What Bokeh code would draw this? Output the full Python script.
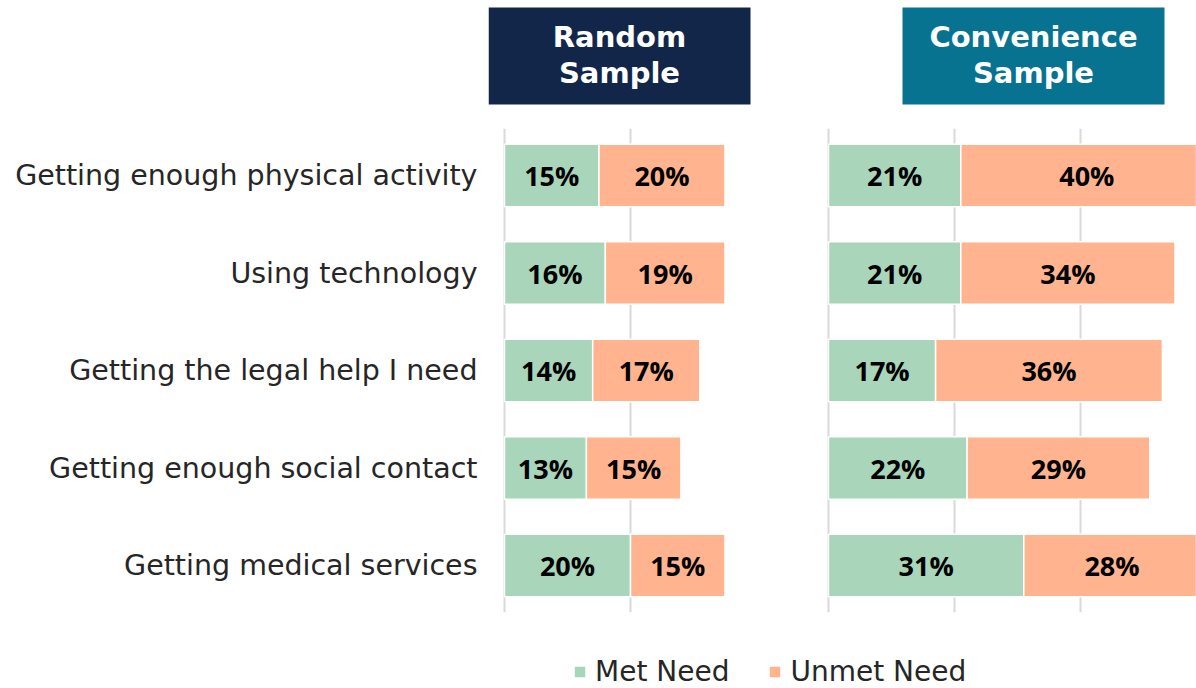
from bokeh.plotting import figure
from bokeh.models import Range1d, FixedTicker, Legend, LegendItem
from bokeh.core.properties import value
from bokeh.embed import file_html
from bokeh.resources import INLINE

# ---- data ----
categories = [
    "Getting enough physical activity",
    "Using technology",
    "Getting the legal help I need",
    "Getting enough social contact",
    "Getting medical services",
]
random_met = [15, 16, 14, 13, 20]
random_unmet = [20, 19, 17, 15, 15]
conv_met = [21, 21, 17, 22, 31]
conv_unmet = [40, 34, 36, 29, 28]
random_grid_ticks = [0, 20]
conv_grid_ticks = [0, 20, 40]
panel_titles = ["Random\nSample", "Convenience\nSample"]
legend_labels = ["Met Need", "Unmet Need"]

# ---- style ----
GREEN = "#a9d5bb"
ORANGE = "#ffb48f"
NAVY = "#12264a"
TEAL = "#077391"
GRID = "#d9d9d9"
FONT = "Open Sans"
WIDE = "DejaVu Sans"
PX_PER_PCT = 6.3
ROW_PX = 97.5

n = len(categories)
ypos = list(range(n))[::-1]  # top row highest

p = figure(
    width=1196, height=688,
    x_range=Range1d(-16 / PX_PER_PCT, 692 / PX_PER_PCT),
    y_range=Range1d(-1.2615, 5.795),
    x_axis_location=None,
    output_backend="svg", toolbar_location=None,
    min_border_left=488, min_border_right=0, min_border_top=0, min_border_bottom=0,
)
p.extra_x_ranges = {"conv": Range1d(-340 / PX_PER_PCT, 368 / PX_PER_PCT)}
p.outline_line_color = None
p.grid.visible = False
p.background_fill_color = "white"
p.border_fill_color = "white"

ax = p.yaxis[0]
ax.ticker = FixedTicker(ticks=ypos)
ax.major_label_overrides = {y: c for y, c in zip(ypos, categories)}
ax.axis_line_color = None
ax.major_tick_line_color = None
ax.minor_tick_line_color = None
ax.major_label_standoff = 5
ax.major_label_text_font = WIDE
ax.major_label_text_font_size = "28.5px"
ax.major_label_text_color = "#262626"

# gridlines
for ticks, rn in ((random_grid_ticks, "default"), (conv_grid_ticks, "conv")):
    p.segment(x0=ticks, x1=ticks, y0=[-0.48] * len(ticks), y1=[4.48] * len(ticks),
              line_color=GRID, line_width=2, x_range_name=rn)

BAR_H = 0.64
renderers = []
for met, unmet, rn in ((random_met, random_unmet, "default"), (conv_met, conv_unmet, "conv")):
    tot = [m + u for m, u in zip(met, unmet)]
    r1 = p.hbar(y=ypos, left=0, right=met, height=BAR_H, fill_color=GREEN,
                line_color="white", line_width=1.5, x_range_name=rn)
    r2 = p.hbar(y=ypos, left=met, right=tot, height=BAR_H, fill_color=ORANGE,
                line_color="white", line_width=1.5, x_range_name=rn)
    renderers.append((r1, r2))
    p.text(x=[m / 2 for m in met], y=ypos, text=[f"{m}%" for m in met],
           text_align="center", text_baseline="middle", text_font=value(FONT),
           text_font_style="bold", text_font_size="27px", text_color="black",
           x_range_name=rn)
    p.text(x=[m + u / 2 for m, u in zip(met, unmet)], y=ypos, text=[f"{u}%" for u in unmet],
           text_align="center", text_baseline="middle", text_font=value(FONT),
           text_font_style="bold", text_font_size="27px", text_color="black",
           x_range_name=rn)

# panel headers
header_specs = [
    (panel_titles[0], NAVY, -16 / PX_PER_PCT, 246 / PX_PER_PCT, "default"),
    (panel_titles[1], TEAL, 74 / PX_PER_PCT, 336 / PX_PER_PCT, "conv"),
]
HT, HB = 4 + 168 / ROW_PX, 4 + 71 / ROW_PX
LINE_Y = [4 + (175 - 36) / ROW_PX, 4 + (175 - 72) / ROW_PX]
for title, col, l, r, rn in header_specs:
    p.quad(left=[l], right=[r], top=[HT], bottom=[HB], fill_color=col, line_color=None,
           x_range_name=rn)
    lines = title.split("\n")
    p.text(x=[(l + r) / 2] * len(lines), y=LINE_Y[:len(lines)], text=lines,
           text_align="center", text_baseline="middle", text_font=value(WIDE),
           text_font_style="bold", text_font_size="29px", text_color="white",
           x_range_name=rn)

legend = Legend(
    items=[LegendItem(label=legend_labels[0], renderers=[renderers[0][0]]),
           LegendItem(label=legend_labels[1], renderers=[renderers[0][1]])],
    orientation="horizontal", location=(84, 0),
    border_line_color=None, background_fill_alpha=0,
    glyph_width=15, glyph_height=15, label_standoff=8, spacing=38,
    padding=0, margin=0,
    label_text_font=WIDE, label_text_font_size="28px", label_text_color="#262626",
)
p.add_layout(legend)

open("out.html", "w").write(file_html(p, INLINE))
